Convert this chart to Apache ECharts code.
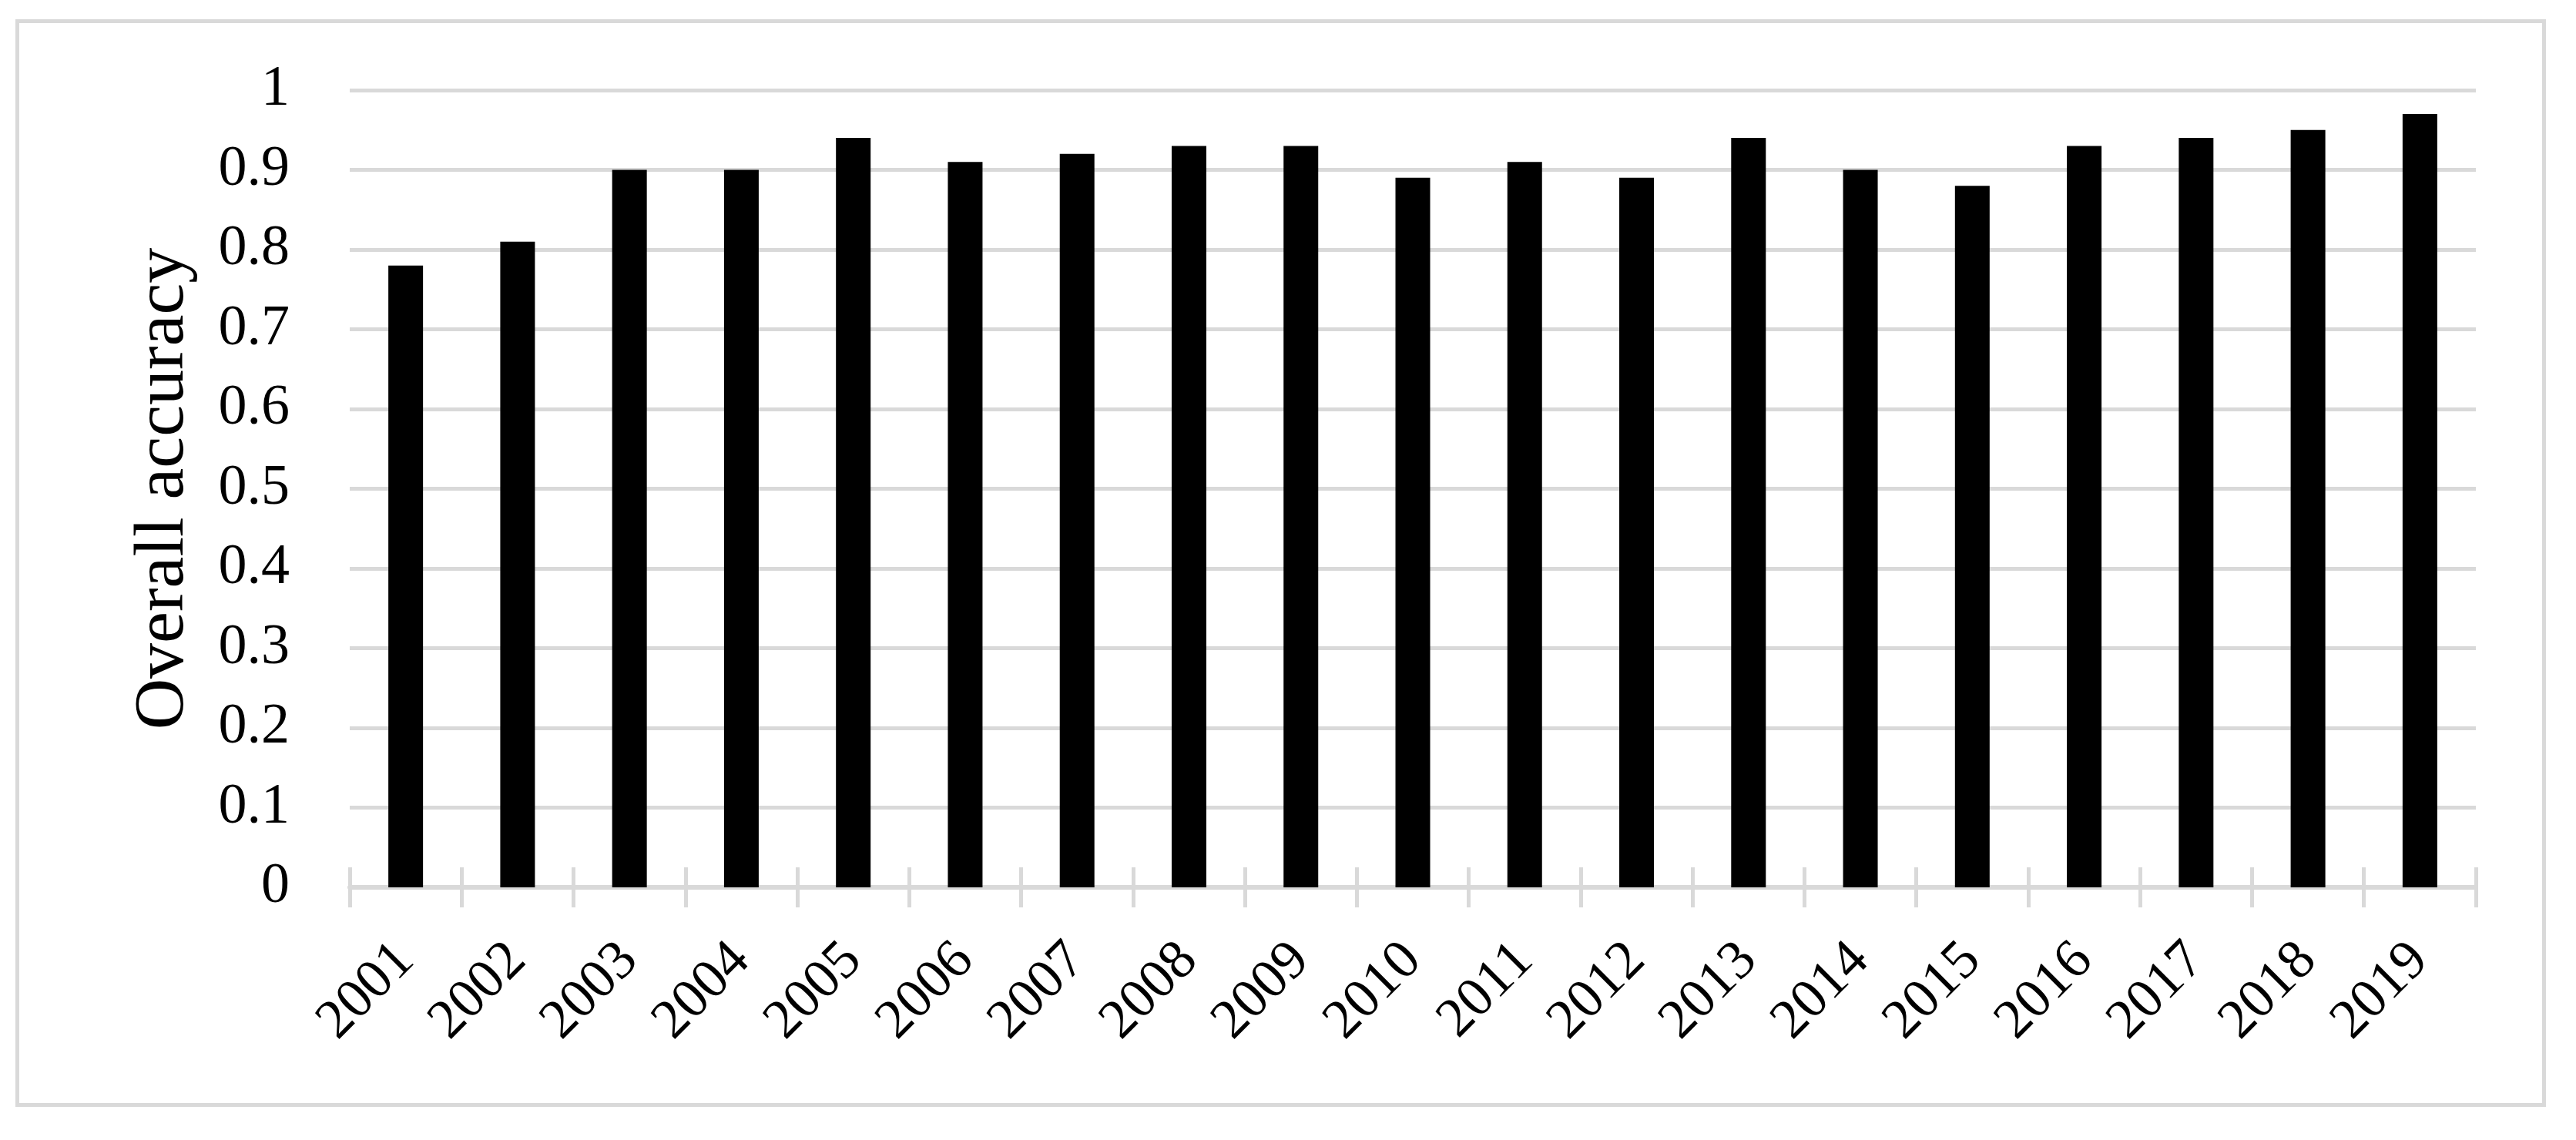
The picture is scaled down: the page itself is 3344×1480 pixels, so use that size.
<!DOCTYPE html>
<html>
<head>
<meta charset="utf-8">
<script src="https://cdn.jsdelivr.net/npm/echarts@6/dist/echarts.min.js"></script>
<style>
  html, body { margin: 0; padding: 0; background: #fff; }
  #chart { width: 3344px; height: 1480px; }
</style>
</head>
<body>
<div id="chart"></div>
<script>
const years = ['2001', '2002', '2003', '2004', '2005', '2006', '2007', '2008', '2009', '2010',
  '2011', '2012', '2013', '2014', '2015', '2016', '2017', '2018', '2019']
const accuracy = [0.78, 0.81, 0.90, 0.90, 0.94, 0.91, 0.92, 0.93, 0.93, 0.89,
  0.91, 0.89, 0.94, 0.90, 0.88, 0.93, 0.94, 0.95, 0.97]
const yTicks = [0, 0.1, 0.2, 0.3, 0.4, 0.5, 0.6, 0.7, 0.8, 0.9, 1]

const font = '"Liberation Serif", "Times New Roman", serif'
const grey = '#d9d9d9'

const chart = echarts.init(document.getElementById('chart'))

chart.setOption({
  backgroundColor: '#ffffff',
  animation: false,
  graphic: [{
    type: 'rect',
    left: 20,
    top: 25,
    shape: { width: 3280, height: 1407 },
    style: { fill: 'none', stroke: grey, lineWidth: 5 },
    silent: true,
  }],
  grid: { left: 454, right: 130, top: 117, bottom: 328 },
  xAxis: [{
    type: 'category',
    data: years,
    axisLine: { lineStyle: { color: grey, width: 6 } },
    axisTick: { show: true, length: 26, lineStyle: { color: grey, width: 5 } },
    axisLabel: {
      rotate: 45,
      margin: 84,
      color: '#000',
      fontFamily: font,
      fontSize: 72,
    },
  }, {
    // second copy only for the tick halves that sit above the axis line
    type: 'category',
    data: years,
    position: 'bottom',
    axisLine: { show: false },
    axisTick: { show: true, inside: true, length: 26, lineStyle: { color: grey, width: 5 } },
    axisLabel: { show: false },
  }],
  yAxis: {
    type: 'value',
    min: yTicks[0],
    max: yTicks[yTicks.length - 1],
    interval: 0.1,
    name: 'Overall accuracy',
    nameLocation: 'middle',
    nameGap: 195,
    nameTextStyle: { color: '#000', fontFamily: font, fontSize: 92 },
    axisLine: { show: false },
    axisTick: { show: false },
    axisLabel: {
      margin: 78,
      color: '#000',
      fontFamily: font,
      fontSize: 74,
      formatter: v => String(Math.round(v * 10) / 10),
    },
    splitLine: { lineStyle: { color: grey, width: 5 } },
  },
  series: [{
    type: 'bar',
    data: accuracy,
    barWidth: 45,
    itemStyle: { color: '#000' },
  }],
})
</script>
</body>
</html>
